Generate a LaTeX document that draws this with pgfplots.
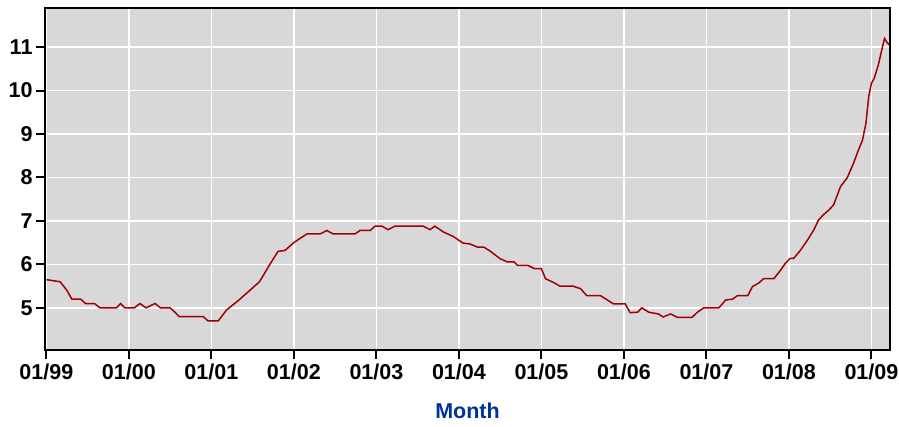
\documentclass[border=0pt]{standalone}
\usepackage{fontspec}
\setmainfont{Liberation Sans}
\usepackage{pgfplots}
\pgfplotsset{compat=1.18}
\definecolor{bg}{RGB}{216,216,216}
\definecolor{series}{RGB}{160,0,0}
\definecolor{lbl}{RGB}{0,51,153}
\begin{document}
\begin{tikzpicture}
\path[use as bounding box] (0pt,0pt) rectangle (899pt,426pt);
\begin{axis}[
  at={(45pt,76pt)}, anchor=south west,
  scale only axis, width=845pt, height=342pt,
  xmin=-0.2, xmax=122.7, ymin=4.03, ymax=11.9,
  axis background/.style={fill=bg},
  xtick={0,12,...,120},
  xticklabels={01/99,01/00,01/01,01/02,01/03,01/04,01/05,01/06,01/07,01/08,01/09},
  ytick={5,6,...,11},
  grid=major, grid style={white, line width=1.5pt},
  axis line style={black, line width=1.5pt},
  tick pos=left, tick align=outside, major tick length=9pt,
  tick style={black, line width=2pt},
  /pgf/number format/assume math mode=true,
  tick label style={font=\bfseries\fontsize{21.5}{23}\selectfont},
  xticklabel style={yshift=-1pt},
  xlabel={Month},
  xlabel style={text=lbl, font=\bfseries\fontsize{21.5}{24}\selectfont, yshift=-17pt},
]
\addplot[series, line width=1.5pt] coordinates {
(0,5.65)(2,5.6)(3,5.4)(3.7,5.2)(5,5.2)(5.7,5.1)(7,5.1)(7.8,5.0)(10.2,5.0)(10.8,5.1)
(11.4,5.0)(12.8,5.0)(13.6,5.1)(14.5,5.0)(15.8,5.1)(16.6,5.0)(18,5.0)(18.7,4.9)(19.3,4.8)
(22.8,4.8)(23.5,4.7)(25,4.7)(26.2,4.95)(28,5.18)(31,5.6)(32.5,6.0)(33.7,6.3)(34.7,6.32)
(35.9,6.49)(36.9,6.6)(37.9,6.7)(39.8,6.7)(40.8,6.78)(41.7,6.7)(44.9,6.7)(45.6,6.78)
(47.1,6.78)(47.8,6.88)(48.8,6.88)(49.7,6.8)(50.7,6.88)(54.8,6.88)(55.8,6.8)(56.5,6.88)
(57.7,6.75)(59.2,6.64)(60.6,6.49)(61.6,6.47)(62.7,6.4)(63.6,6.4)(64.6,6.3)(66,6.13)
(67,6.06)(68,6.06)(68.5,5.98)(70,5.98)(71,5.9)(72,5.9)(72.6,5.67)(73.8,5.58)(74.7,5.5)
(76.6,5.5)(77.7,5.44)(78.6,5.28)(80.6,5.28)(82,5.14)(82.5,5.09)(84.2,5.09)(84.9,4.89)
(86,4.9)(86.6,5.0)(87.6,4.9)(89,4.86)(89.7,4.79)(90.8,4.86)(91.8,4.78)(93.9,4.78)
(94.7,4.9)(95.6,5.0)(97.8,5.0)(98.8,5.18)(99.8,5.2)(100.5,5.28)(102,5.28)(102.7,5.49)
(103.6,5.57)(104.3,5.67)(105.8,5.67)(106.8,5.87)(107.5,6.03)(108.2,6.14)(108.7,6.14)
(109.7,6.33)(110.7,6.56)(111.6,6.79)(112.3,7.02)(113,7.14)(113.8,7.25)(114.5,7.37)
(115.5,7.79)(116.5,8.0)(117.4,8.33)(118.1,8.63)(118.7,8.86)(119.2,9.25)(119.6,9.86)
(120,10.17)(120.4,10.28)(121,10.59)(121.6,11.0)(121.9,11.2)(122.3,11.1)(122.6,11.05)
};
\end{axis}
\end{tikzpicture}
\end{document}
